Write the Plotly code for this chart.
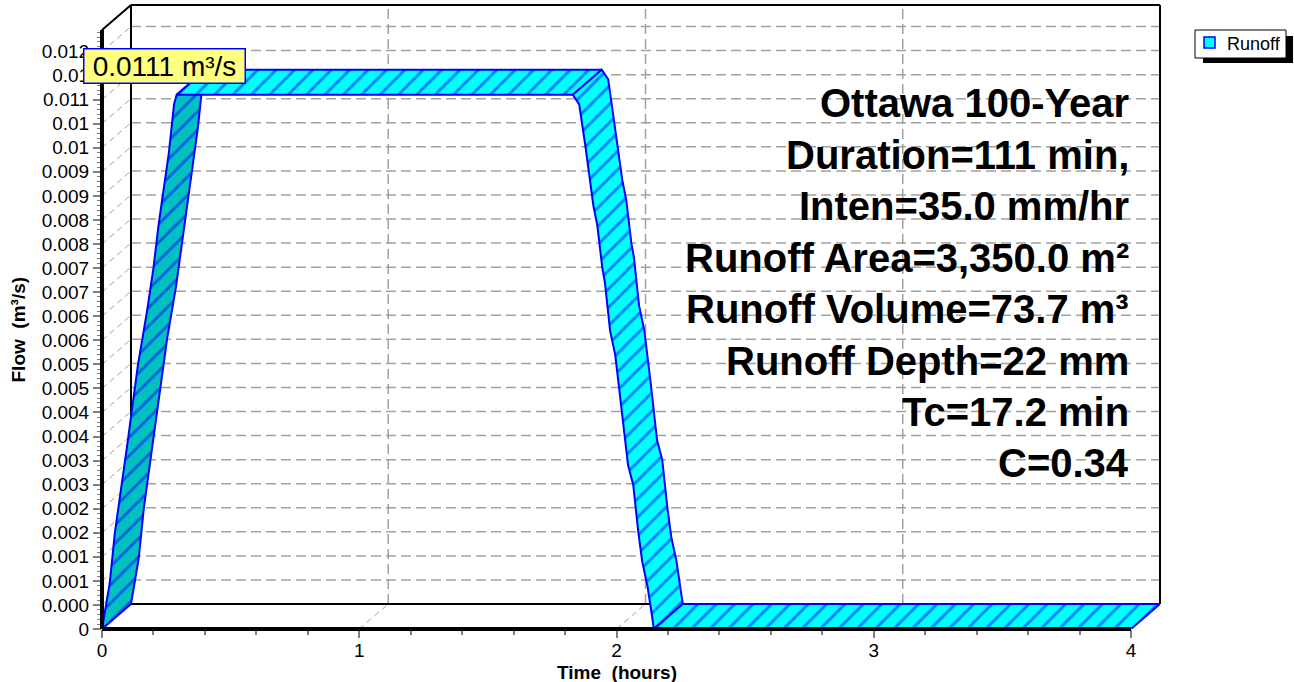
import plotly.graph_objects as go

# ---------------- data ----------------
TIME_H = [0.0, 0.03, 0.05, 0.08, 0.10, 0.12, 0.14, 0.175, 0.20, 0.22, 0.24, 0.26, 0.28, 0.29,
          1.83, 1.855, 1.88, 1.91, 1.925, 1.945, 1.955, 1.975, 1.995, 2.02, 2.045, 2.065,
          2.085, 2.10, 2.12, 2.14, 2.145, 4.0]
FLOW_CMS = [0.0, 0.00095, 0.0020, 0.0031, 0.0039, 0.0047, 0.0055, 0.0066, 0.0075, 0.0084, 0.0091,
            0.0099, 0.0109, 0.0111,
            0.0111, 0.0109, 0.0100, 0.0088, 0.0084, 0.0075, 0.0072, 0.0062, 0.0057, 0.0046, 0.0034,
            0.0030, 0.0020, 0.0014, 0.0009, 0.0002, 0.0, 0.0]
SERIES_NAME = "Runoff"
PEAK_LABEL = "0.0111 m³/s"

X_TICK_VALUES = [0, 1, 2, 3, 4]
X_TICK_LABELS = ["0", "1", "2", "3", "4"]
X_MINOR_VALUES = [0.2, 0.4, 0.6, 0.8, 1.2, 1.4, 1.6, 1.8, 2.2, 2.4, 2.6, 2.8, 3.2, 3.4, 3.6, 3.8]
Y_TICK_VALUES = [0.0, 0.0005, 0.001, 0.0015, 0.002, 0.0025, 0.003, 0.0035, 0.004, 0.0045, 0.005,
                 0.0055, 0.006, 0.0065, 0.007, 0.0075, 0.008, 0.0085, 0.009, 0.0095, 0.010,
                 0.0105, 0.011, 0.0115, 0.012]
Y_TICK_LABELS = ["0", "0.000", "0.001", "0.001", "0.002", "0.002", "0.003", "0.003", "0.004",
                 "0.004", "0.005", "0.005", "0.006", "0.006", "0.007", "0.007", "0.008", "0.008",
                 "0.009", "0.009", "0.01", "0.01", "0.011", "0.01", "0.012"]
INFO_LINES = ["Ottawa 100-Year", "Duration=111 min,", "Inten=35.0 mm/hr",
              "Runoff Area=3,350.0 m²", "Runoff Volume=73.7 m³", "Runoff Depth=22 mm",
              "Tc=17.2 min", "C=0.34"]
X_TITLE = "Time \u00a0(hours)"
Y_TITLE = "Flow \u00a0(m³/s)"

# ---------------- geometry of the pseudo-3D frame ----------------
W, H = 1294, 682
ML, MR, MT, MB = 102, 134, 5, 53
PW, PH = W - ML - MR, H - MT - MB
PX_PER_H = 257.25
PX_PER_Q = 48125.0
DEPTH_X_PX, DEPTH_Y_PX = 29, 25
DX = DEPTH_X_PX / PX_PER_H
DY = DEPTH_Y_PX / PX_PER_Q
XMAX = PW / PX_PER_H
YMAX = PH / PX_PER_Q
Y_FRONT_TOP = YMAX - DY
X_END = X_TICK_VALUES[-1]

FONT = "Liberation Sans, Arial, sans-serif"
CYAN = "#00FFFF"
TEAL = "#00C0C0"
BLUE = "#0000FF"
GRID = "#A0A0A0"


def xp(t):
    return t / XMAX


def yp(q):
    return q / YMAX


def px_x(px):
    return (px - ML) / PW


def px_y(py):
    return (H - MB - py) / PH


shapes = []


def seg(x0, y0, x1, y1, color, width, dash=None, layer="below"):
    d = dict(type="line", xref="paper", yref="paper", x0=xp(x0), y0=yp(y0), x1=xp(x1), y1=yp(y1),
             line=dict(color=color, width=width), layer=layer)
    if dash:
        d["line"]["dash"] = dash
    shapes.append(d)


# back plane grid
for v in Y_TICK_VALUES[1:]:
    seg(DX, v + DY, X_END + DX, v + DY, GRID, 1.5, "10px,5px")
    seg(0, v, DX, v + DY, GRID, 1, "6px,4px")
for t in X_TICK_VALUES[1:-1]:
    seg(t + DX, DY, t + DX, YMAX, GRID, 1.5, "10px,5px")
    seg(t, 0, t + DX, DY, GRID, 1, "6px,4px")
# back plane frame
seg(DX, DY, DX, YMAX, "black", 2)
seg(DX, YMAX, X_END + DX, YMAX, "black", 2)
seg(X_END + DX, DY, X_END + DX, YMAX, "black", 2)
seg(DX, DY, X_END + DX, DY, "black", 2)
seg(0, Y_FRONT_TOP, DX, YMAX, "black", 2)
# front axes
seg(0, 0, 0, Y_FRONT_TOP, "black", 4, layer="above")
seg(0, 0, X_END, 0, "black", 4, layer="above")

# legend drawn by hand (box with drop shadow)
shapes.append(dict(type="rect", xref="paper", yref="paper", x0=px_x(1203), x1=px_x(1293),
                   y0=px_y(63), y1=px_y(36), fillcolor="black", line=dict(width=0), layer="above"))
shapes.append(dict(type="rect", xref="paper", yref="paper", x0=px_x(1195), x1=px_x(1286),
                   y0=px_y(58), y1=px_y(30), fillcolor="white", line=dict(color="black", width=1),
                   layer="above"))
shapes.append(dict(type="rect", xref="paper", yref="paper", x0=px_x(1204), x1=px_x(1215),
                   y0=px_y(48), y1=px_y(37), fillcolor=CYAN, line=dict(color=BLUE, width=1.5),
                   layer="above"))

# ---------------- hydrograph as extruded faces ----------------
fig = go.Figure()


def face_kind(i):
    q0, q1 = FLOW_CMS[i], FLOW_CMS[i + 1]
    if q1 > q0:
        return "rise"
    if q1 < q0:
        return "fall"
    return "top" if q0 > 0 else "floor"


n = len(TIME_H)
groups = []
start, cur = 0, face_kind(0)
for i in range(1, n - 1):
    k = face_kind(i)
    if k != cur:
        groups.append((cur, start, i))
        start, cur = i, k
groups.append((cur, start, n - 1))

for kind, s, e in groups:
    fx = TIME_H[s:e + 1]
    fy = FLOW_CMS[s:e + 1]
    bx = [t + DX for t in fx][::-1]
    by = [q + DY for q in fy][::-1]
    xs = fx + bx + [fx[0]]
    ys = fy + by + [fy[0]]
    col = TEAL if kind == "rise" else CYAN
    fig.add_trace(go.Scatter(
        x=xs, y=ys, mode="lines", fill="toself", fillcolor=col,
        fillpattern=dict(shape="/", fgcolor=BLUE, bgcolor=col, size=13, solidity=0.22),
        line=dict(color=BLUE, width=2), name=SERIES_NAME, showlegend=False, hoverinfo="skip"))

# ---------------- annotations ----------------
annotations = []
for i, txt in enumerate(INFO_LINES):
    annotations.append(dict(text="<b>" + txt + "</b>", xref="paper", yref="paper",
                            x=px_x(1131), y=px_y(103 + i * 51.5), xanchor="right", yanchor="middle",
                            showarrow=False, font=dict(family=FONT, size=40, color="black")))
annotations.append(dict(text=PEAK_LABEL, xref="paper", yref="paper", x=px_x(164.5), y=px_y(66),
                        xanchor="center", yanchor="middle", showarrow=False, width=160, height=33,
                        bgcolor="#FFFF80", bordercolor=BLUE, borderwidth=1.5, borderpad=0,
                        font=dict(family=FONT, size=28, color="black")))
annotations.append(dict(text=SERIES_NAME, xref="paper", yref="paper", x=px_x(1225), y=px_y(43.5),
                        xanchor="left", yanchor="middle", showarrow=False,
                        font=dict(family=FONT, size=18, color="black")))
annotations.append(dict(text="<b>" + X_TITLE + "</b>", xref="paper", yref="paper", x=px_x(617),
                        y=px_y(672), xanchor="center", yanchor="middle", showarrow=False,
                        font=dict(family=FONT, size=19, color="black")))
annotations.append(dict(text="<b>" + Y_TITLE + "</b>", xref="paper", yref="paper", x=px_x(18.5),
                        y=px_y(330), xanchor="center", yanchor="middle", showarrow=False,
                        textangle=-90, font=dict(family=FONT, size=19, color="black")))

y_minor = [round(i * 0.0001, 4) for i in range(0, 125)]

fig.update_layout(
    width=W, height=H,
    margin=dict(l=ML, r=MR, t=MT, b=MB, pad=0),
    paper_bgcolor="white", plot_bgcolor="rgba(0,0,0,0)",
    showlegend=False,
    shapes=shapes, annotations=annotations,
    font=dict(family=FONT, size=19, color="black"),
    xaxis=dict(range=[0, XMAX], showgrid=False, zeroline=False, showline=False,
               tickmode="array", tickvals=X_TICK_VALUES, ticktext=X_TICK_LABELS,
               ticks="outside", ticklen=8, tickwidth=1.5, tickcolor="#808080",
               ticklabelstandoff=-4,
               tickfont=dict(family=FONT, size=19, color="black"),
               minor=dict(tickmode="array", tickvals=X_MINOR_VALUES, ticks="outside",
                          ticklen=5, tickwidth=1.5, tickcolor="#808080", showgrid=False)),
    yaxis=dict(range=[0, YMAX], showgrid=False, zeroline=False, showline=False,
               tickmode="array", tickvals=Y_TICK_VALUES, ticktext=Y_TICK_LABELS,
               ticks="outside", ticklen=8, tickwidth=1.5, tickcolor="#808080",
               tickfont=dict(family=FONT, size=19, color="black"),
               minor=dict(tickmode="array", tickvals=y_minor, ticks="outside",
                          ticklen=4, tickwidth=1, tickcolor="#808080", showgrid=False)),
)

fig.write_html("out.html", config={"displayModeBar": False},
               post_script="document.body.style.margin='0px';")
